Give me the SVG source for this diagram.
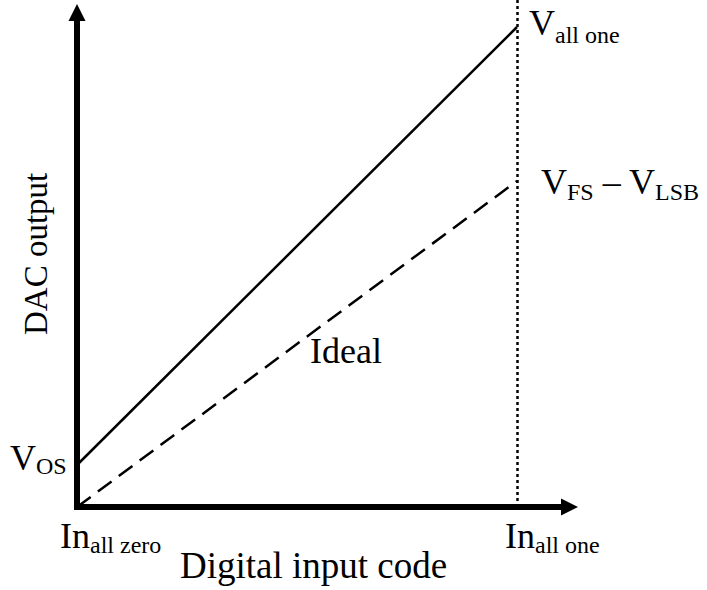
<svg xmlns="http://www.w3.org/2000/svg" width="707" height="590" viewBox="0 0 707 590">
<style>
text{font-family:"Liberation Serif","Times New Roman",serif;fill:#000}
.big{font-size:36px}
.sub{font-size:24px}
.axis{fill:none;stroke:#000;stroke-width:6;stroke-linejoin:miter}
.line{fill:none;stroke:#000;stroke-width:2.5}
</style>
<rect width="707" height="590" fill="#fff"/>
<g id="connectors">
<path class="axis" d="M77,21 V507 H561"/>
<polygon points="77,4 68.5,21 85.5,21" fill="#000"/>
<polygon points="578,507 561,498.5 561,515.5" fill="#000"/>
<line class="line" x1="517.5" y1="0" x2="517.5" y2="504" stroke-width="3" stroke-dasharray="3 3"/>
<line class="line" x1="77" y1="465" x2="517" y2="27"/>
<line class="line" x1="77" y1="507" x2="517" y2="181" stroke-dasharray="17 9"/>
</g>
<g id="y-label"><text style="font-size:33px" transform="translate(47,335) rotate(-90)">DAC output</text></g>
<g id="x-label"><text style="font-size:37px" x="180" y="578">Digital input code</text></g>
<g id="v-all-one"><text class="big" x="529" y="35">V<tspan class="sub" dy="8">all one</tspan></text></g>
<g id="v-fs-lsb"><text class="big" x="541" y="194">V<tspan class="sub" dy="6">FS</tspan><tspan dy="-6"> – V</tspan><tspan class="sub" dy="6">LSB</tspan></text></g>
<g id="v-os"><text class="big" x="10" y="470">V<tspan class="sub" dy="4">OS</tspan></text></g>
<g id="in-all-zero"><text class="big" x="60" y="548">In<tspan class="sub" dy="5">all zero</tspan></text></g>
<g id="in-all-one"><text class="big" x="505" y="548">In<tspan class="sub" dy="5">all one</tspan></text></g>
<g id="ideal"><text class="big" x="310" y="363">Ideal</text></g>
</svg>
